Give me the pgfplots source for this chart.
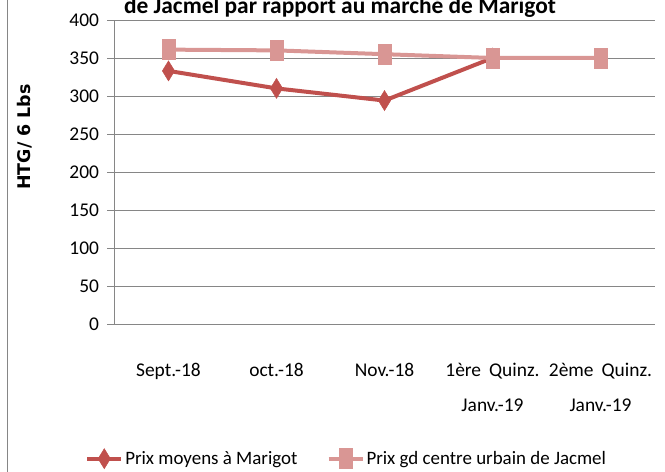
\documentclass[border=0pt]{standalone}
\usepackage{pgfplots}
\pgfplotsset{compat=1.18}
\usepackage{fontspec}
\setmainfont{Carlito}
\newfontfamily\labfont{DejaVu Sans}
\definecolor{cMar}{RGB}{192,80,77}
\definecolor{cJac}{RGB}{217,150,148}
\definecolor{cAx}{RGB}{134,134,134}
\begin{document}
\begin{tikzpicture}
\begin{axis}[
  scale only axis,
  width=540bp, height=304bp,
  xmin=-0.5, xmax=4.5,
  ymin=0, ymax=400,
  ytick={0,50,...,400},
  xtick={0,1,2,3,4},
  xticklabels={Sept.-18, oct.-18, Nov.-18, {1ère\hspace{8bp}Quinz.\\Janv.-19}, {2ème\hspace{8bp}Quinz.\\Janv.-19}},
  minor xtick={-0.5,0.5,1.5,2.5,3.5,4.5},
  xtick style={draw=none},
  minor tick length=7bp,
  ymajorgrids,
  grid style={cAx, line width=0.8bp},
  axis x line*=bottom, axis y line*=left,
  axis line style={cAx, line width=0.8bp, -},
  every minor tick/.style={cAx, line width=0.8bp},
  ytick style={cAx, line width=0.8bp},
  major tick length=7bp,
  tick align=outside,
  /pgf/number format/assume math mode=true,
  ticklabel style={font=\fontsize{19.5}{35}\selectfont, text=black},
  yticklabel style={xshift=-5bp},
  xticklabel style={align=center, yshift=-29bp},
  ylabel={HTG/ 6 Lbs},
  ylabel style={font=\labfont\bfseries\fontsize{17.5}{20}\selectfont, at={(rel axis cs:-0.166,0.615)}, anchor=center},
  clip=false,
  legend columns=2,
  legend style={at={(rel axis cs:-0.06,-0.443)}, anchor=west, draw=none, fill=none,
    font=\fontsize{19}{22}\selectfont, /tikz/every even column/.append style={column sep=27bp}},
  legend cell align=left,
  legend image code/.code={\draw[mark repeat=2,mark phase=2] plot coordinates {(0bp,0bp) (17bp,0bp) (34bp,0bp)};},
]
\addplot[cMar, line width=4bp, mark=diamond*, mark size=10bp, mark options={xscale=0.82, line width=0.5bp}]
  coordinates {(0,333) (1,310) (2,294) (3,350)};
\addlegendentry{Prix moyens à Marigot}
\addplot[cJac, line width=4bp, mark=square*, mark size=10bp, mark options={xscale=0.65, line width=0.5bp}]
  coordinates {(0,361) (1,360) (2,355) (3,350) (4,350)};
\addlegendentry{Prix gd centre urbain de Jacmel}
\node[anchor=base, font=\bfseries\fontsize{23.5}{26}\selectfont] at (rel axis cs:0.4176,1.02) {de Jacmel par rapport au marché de Marigot};
\coordinate (bl) at (axis cs:-1.560,-194.7);
\coordinate (tr) at (axis cs:4.597,426.3);
\draw[cAx, line width=1bp] (axis cs:-1.486,-194.7) -- (axis cs:-1.486,426.3);
\end{axis}
\pgfresetboundingbox
\useasboundingbox (bl) rectangle (tr);
\end{tikzpicture}
\end{document}
